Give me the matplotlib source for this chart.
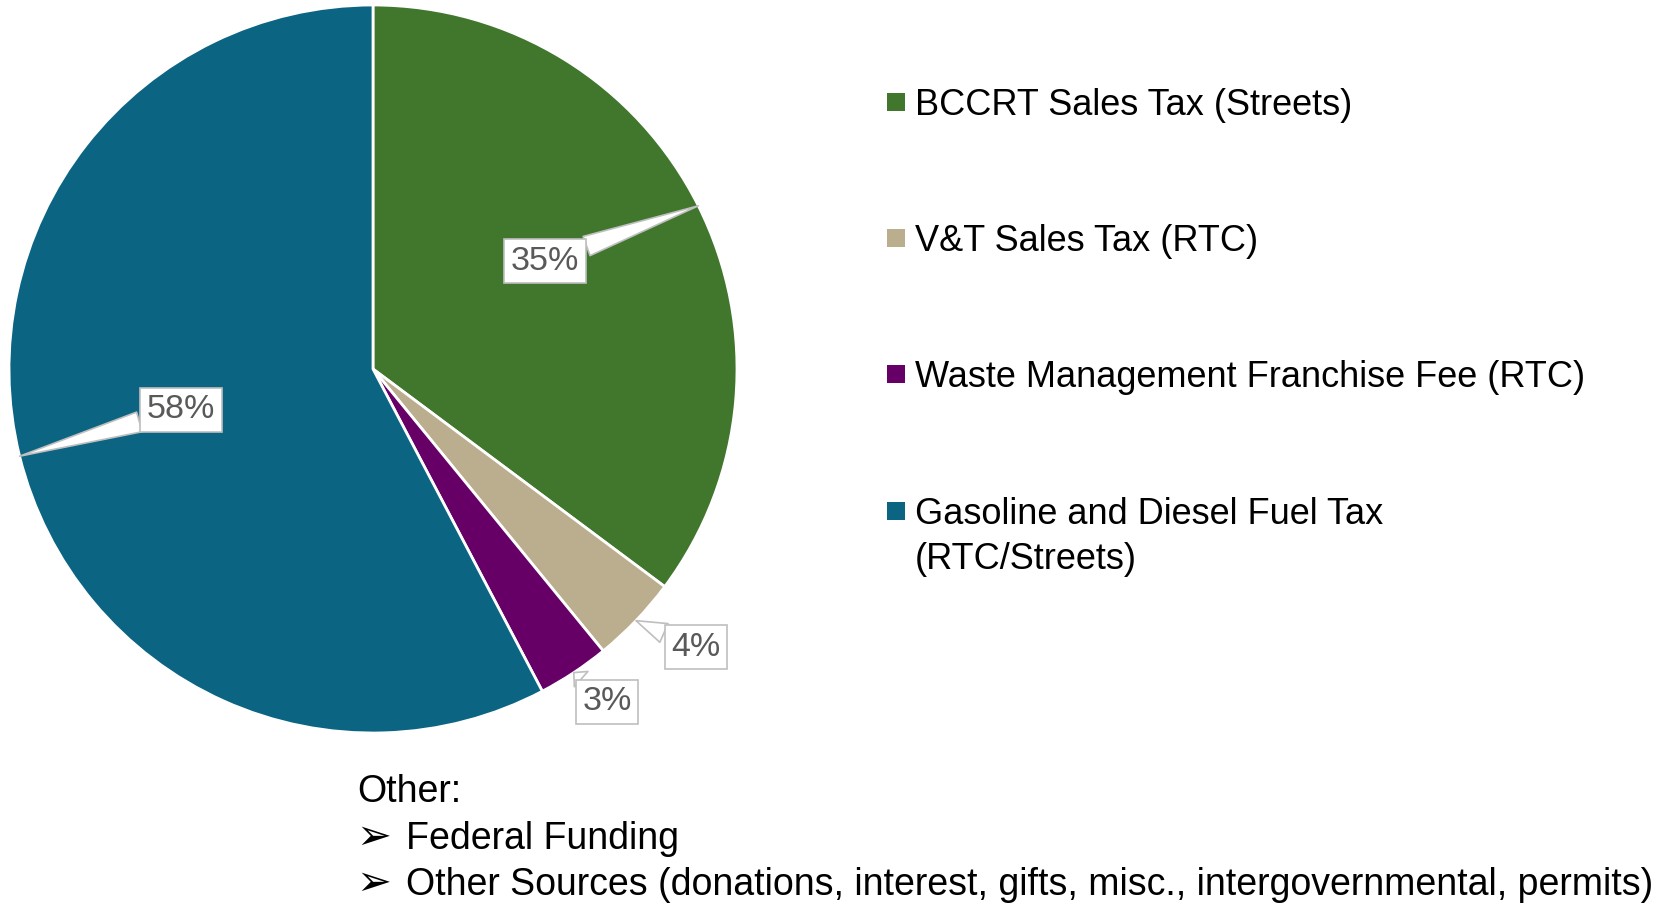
import numpy as np
import matplotlib.pyplot as plt
from matplotlib.patches import Rectangle

# Data
sources = ['BCCRT Sales Tax (Streets)', 'V&T Sales Tax (RTC)',
           'Waste Management Franchise Fee (RTC)',
           'Gasoline and Diesel Fuel Tax\n(RTC/Streets)']
shares = [35.2, 3.9, 3.2, 57.7]
pct_labels = ['35%', '4%', '3%', '58%']
colors = ['#41762D', '#BBAE8F', '#660066', '#0A6482']
other_items = ['Federal Funding',
               'Other Sources (donations, interest, gifts, misc., intergovernmental, permits)']

FONT = 'Liberation Sans'
W, H = 1679, 906
fig = plt.figure(figsize=(W / 100, H / 100), dpi=100)

# pie axes: centre (373, 369) px, radius 364 px
cx, cy, r = 373, 369, 364
ax = fig.add_axes([(cx - r) / W, (H - cy - r) / H, 2 * r / W, 2 * r / H])
wedges, _ = ax.pie(shares, colors=colors, startangle=90, counterclock=False,
                   wedgeprops=dict(edgecolor='white', linewidth=2))
ax.set_xlim(-1, 1)
ax.set_ylim(-1, 1)
ax.set_aspect('equal')

# label box positions (px) -> data units
label_px = [(545, 261), (696, 647), (607, 702), (181, 410)]
for w, lab, (px, py) in zip(wedges, pct_labels, label_px):
    mid = np.deg2rad((w.theta1 + w.theta2) / 2)
    tip = (np.cos(mid), np.sin(mid))
    pos = ((px - cx) / r, (cy - py) / r)
    ax.annotate(lab, xy=tip, xytext=pos, ha='center', va='center',
                fontsize=24.5, color='#595959', family=FONT,
                bbox=dict(boxstyle='square,pad=0.2', fc='white', ec='#BFBFBF', lw=1.2),
                arrowprops=dict(arrowstyle='wedge,tail_width=0.6', fc='white',
                                ec='#BFBFBF', lw=1.2, shrinkA=0, shrinkB=0),
                annotation_clip=False)

# legend (marker centre y in px)
leg_y = [102, 238, 374, 511]
for src, col, y in zip(sources, colors, leg_y):
    fig.patches.append(Rectangle((887 / W, (H - y - 9) / H), 18 / W, 18 / H,
                                 transform=fig.transFigure, fc=col, ec='none'))
    for k, line in enumerate(src.split('\n')):
        fig.text(915 / W, (H - y - 13 - 45 * k) / H, line, fontsize=26,
                 family=FONT, va='baseline', ha='left')

# other sources note
fig.text(357 / W, (H - 802) / H, 'Other:', fontsize=27, family=FONT, va='baseline')
for i, item in enumerate(other_items):
    yb = H - 849 - i * 46
    fig.text(356 / W, yb / H, '\u27A2', fontsize=30, family='DejaVu Sans', va='baseline')
    fig.text(406 / W, yb / H, item, fontsize=27, family=FONT, va='baseline')

fig.savefig('out.png', dpi=100)
